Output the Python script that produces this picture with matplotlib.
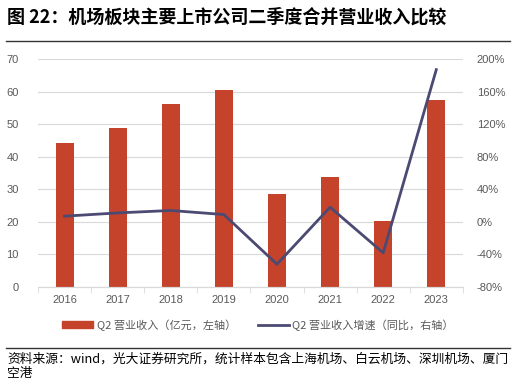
import matplotlib.pyplot as plt
from matplotlib.lines import Line2D
from matplotlib.patches import Rectangle

plt.rcParams['font.family'] = ['Noto Sans CJK SC', 'DejaVu Sans']

years = ['2016', '2017', '2018', '2019', '2020', '2021', '2022', '2023']
revenue = [44.2, 48.8, 56.1, 60.4, 28.6, 33.8, 20.3, 57.4]
growth = [7, 11, 14, 9, -52, 18, -38, 187]

bar_color = '#C5432A'
line_color = '#4B4A73'
grid_color = '#D9D9D9'
text_color = '#595959'
tick_font = ['Liberation Sans', 'Noto Sans CJK SC']

fig = plt.figure(figsize=(5.16, 3.81), dpi=100)
ax = fig.add_axes([0.0736, 0.2467, 0.8234, 0.5983])
ax2 = ax.twinx()

x = range(len(years))
ax.bar(x, revenue, width=0.34, color=bar_color, zorder=2)
ax2.plot(x, growth, color=line_color, lw=2, zorder=3)

ax.set_xlim(-0.5, 7.5)
ax.set_ylim(0, 70)
ax.set_yticks(range(0, 71, 10))
ax2.set_ylim(-80, 200)
ax2.set_yticks(range(-80, 201, 40))
ax2.set_yticklabels([f'{v}%' for v in range(-80, 201, 40)])

ax.set_xticks(list(x))
ax.set_xticklabels(years)
ax.set_xticks([i + 0.5 for i in range(-1, 8)], minor=True)
ax.tick_params(axis='x', which='major', length=0, pad=6, labelsize=8, labelcolor=text_color)
ax.tick_params(axis='x', which='minor', length=4, color=grid_color)
ax.tick_params(axis='y', length=0, pad=14, labelsize=8, labelcolor=text_color)
ax2.tick_params(axis='y', length=0, pad=10, labelsize=8, labelcolor=text_color)
for lbl in ax.get_xticklabels() + ax.get_yticklabels() + ax2.get_yticklabels():
    lbl.set_family(tick_font)

ax.grid(axis='y', color=grid_color, lw=0.8, zorder=0)
ax.set_axisbelow(True)
for a in (ax, ax2):
    for s in ('top', 'left', 'right'):
        a.spines[s].set_visible(False)
    a.spines['bottom'].set_color(grid_color)

fig.text(0.014, 0.955, '图 22：机场板块主要上市公司二季度合并营业收入比较',
         fontsize=13, fontweight='bold', color='black', va='center')
fig.add_artist(Line2D([0.012, 0.988], [0.893, 0.893], color='#333333', lw=1))

handles = [Rectangle((0, 0), 1, 1, color=bar_color),
           Line2D([0], [0], color=line_color, lw=2)]
fig.legend(handles, ['Q2 营业收入（亿元，左轴）', 'Q2 营业收入增速（同比，右轴）'],
           loc='center', bbox_to_anchor=(0.5, 0.147), ncol=2, frameon=False,
           fontsize=8, labelcolor=text_color, handlelength=2.8, handleheight=0.6,
           columnspacing=2.0, handletextpad=0.3)

fig.add_artist(Line2D([0.012, 0.988], [0.087, 0.087], color='#333333', lw=1))
fig.text(0.014, 0.058, '资料来源：wind，光大证券研究所，统计样本包含上海机场、白云机场、深圳机场、厦门',
         fontsize=9.2, color='black', va='center')
fig.text(0.014, 0.019, '空港', fontsize=9.2, color='black', va='center')

fig.savefig('out.png', dpi=100)
